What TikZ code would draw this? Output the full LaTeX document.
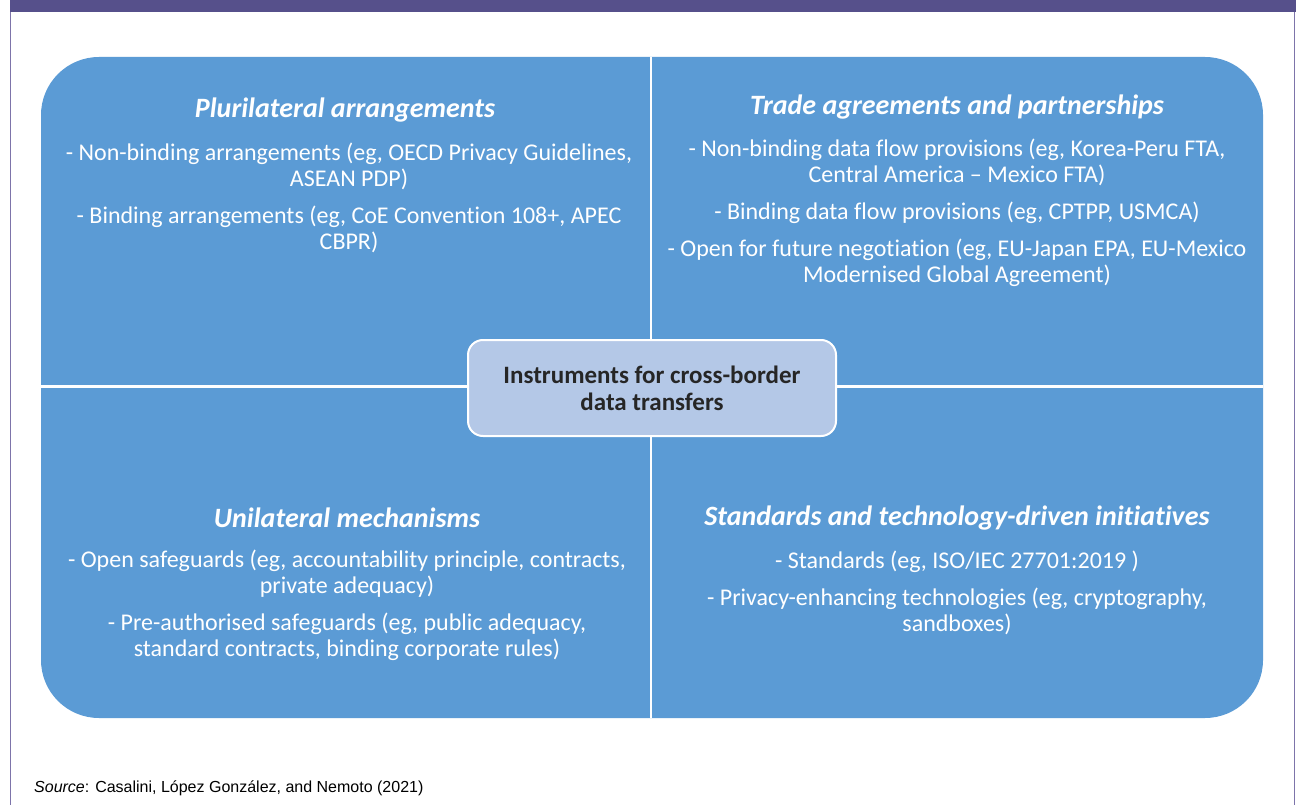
\documentclass[tikz,border=0pt]{standalone}
\usepackage{fontspec}
\setmainfont{Carlito}[Ligatures={NoCommon}]
\newfontfamily\arialfont{Liberation Sans}
\definecolor{banner}{HTML}{56508B}
\definecolor{frameline}{HTML}{7D74AA}
\definecolor{quad}{HTML}{5B9BD5}
\definecolor{hub}{HTML}{B4C8E7}
\definecolor{hubtext}{HTML}{262626}
\tikzset{
  qtitle/.style={text=white, font=\fontsize{28}{32}\selectfont\bfseries\itshape, anchor=center},
  qbody/.style={text=white, font=\fontsize{24}{26}\selectfont, align=center, anchor=north},
  hubbox/.style={draw=white, line width=2pt, fill=hub, rounded corners=15pt,
    minimum width=368pt, minimum height=96pt, align=center, text=hubtext,
    font=\fontsize{25}{27}\selectfont\bfseries},
  divider/.style={white, line width=2.4pt}
}
\begin{document}
\begin{tikzpicture}[x=1pt,y=-1pt]
\useasboundingbox (0,0) rectangle (1296,805);
% page background, header strip and side rules
\fill[white] (0,0) rectangle (1296,805);
\fill[banner] (10,0) rectangle (1296,12);
\draw[frameline, line width=1.5pt] (10.5,12) -- (10.5,805);
\draw[frameline, line width=1.5pt] (1294.5,12) -- (1294.5,805);
% four-quadrant panel
\fill[quad, rounded corners=58pt] (41,57) rectangle (1263,718);
\coordinate (vt) at (651,57);
\coordinate (vb) at (651,718);
\coordinate (hl) at (41,386.5);
\coordinate (hr) at (1263,386.5);
\draw[divider] (vt) -- (vb);
\draw[divider] (hl) -- (hr);
% centre hub
\node[hubbox] (hub) at (652,388) {Instruments for cross-border\\data transfers};
% top-left quadrant
\node[qtitle] (t1) at (345,110) {Plurilateral arrangements};
\node[qbody] (b1) at (349,139) {- Non-binding arrangements (eg, OECD Privacy Guidelines,\\ASEAN PDP)\\[11pt]- Binding arrangements (eg, CoE Convention 108+, APEC\\CBPR)};
% top-right quadrant
\node[qtitle] (t2) at (957,107) {Trade agreements and partnerships};
\node[qbody] (b2) at (957,135) {- Non-binding data flow provisions (eg, Korea-Peru FTA,\\Central America -- Mexico FTA)\\[11pt]- Binding data flow provisions (eg, CPTPP, USMCA)\\[11pt]- Open for future negotiation (eg, EU-Japan EPA, EU-Mexico\\Modernised Global Agreement)};
% bottom-left quadrant
\node[qtitle] (t3) at (347,518) {Unilateral mechanisms};
\node[qbody] (b3) at (347,546) {- Open safeguards (eg, accountability principle, contracts,\\private adequacy)\\[11pt]- Pre-authorised safeguards (eg, public adequacy,\\standard contracts, binding corporate rules)};
% bottom-right quadrant
\node[qtitle] (t4) at (957,518) {Standards and technology-driven initiatives};
\node[qbody] (b4) at (957,547) {- Standards (eg, ISO/IEC 27701:2019 )\\[11pt]- Privacy-enhancing technologies (eg, cryptography,\\sandboxes)};
% source line
\node[anchor=west, font=\arialfont\fontsize{16}{19}\selectfont, text=black, inner sep=0pt] (src) at (34,788) {\textit{Source}: Casalini, López González, and Nemoto (2021)};
\end{tikzpicture}
\end{document}
